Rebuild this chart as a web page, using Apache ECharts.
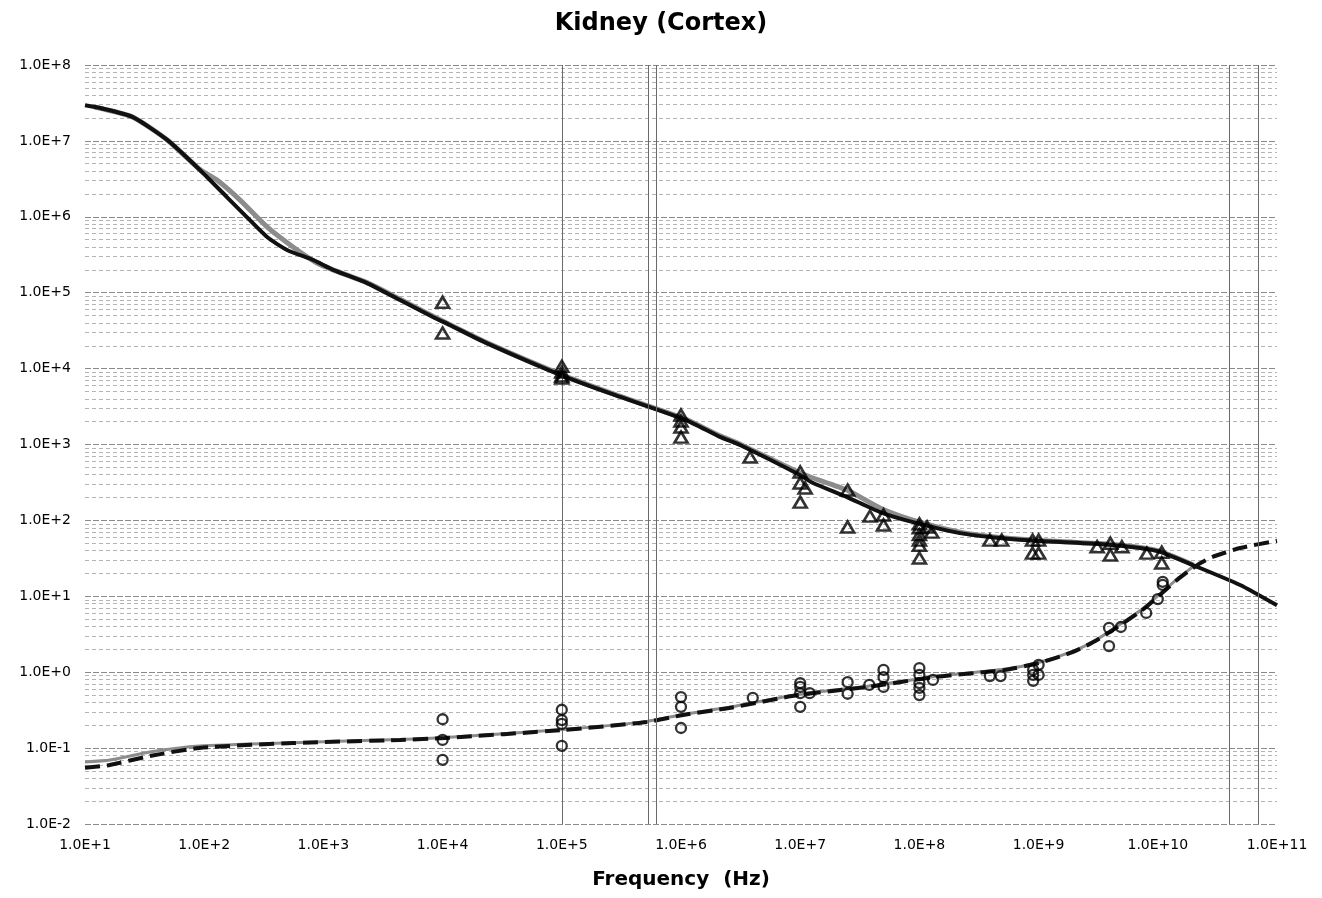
<!DOCTYPE html>
<html>
<head>
<meta charset="utf-8">
<title>Kidney (Cortex)</title>
<script src="https://cdn.jsdelivr.net/npm/echarts@6/dist/echarts.min.js"></script>
<style>
  html, body { margin: 0; padding: 0; background: #fff; }
  #chart { width: 1322px; height: 898px; }
</style>
</head>
<body>
<div id="chart"></div>
<script>
// permittivity model (dark solid)
var permFreq = [10, 13.4, 25, 49, 92, 155, 211, 337, 495, 818, 1205, 2323, 4395, 8300, 11500, 23400,
  1.08e5, 3.1e5, 1.1e6, 2.12e6, 3.13e6, 9.95e6, 1.28e7, 2.47e7, 4.67e7, 8.83e7, 2.19e8, 4.74e8,
  1.03e9, 3.27e9, 7.1e9, 1.05e10, 1.97e10, 4.9e10, 1e11]
var permValue = [2.95e7, 2.71e7, 2.07e7, 1.03e7, 4.14e6, 1.82e6, 1.12e6, 5.42e5, 3.66e5, 2.7e5, 2.0e5, 1.34e5, 8.0e4, 4.79e4, 3.75e4, 2.17e4,
  7740, 4230, 2100, 1260, 984, 396, 311, 203, 129, 95, 68, 58.6,
  53.6, 48.9, 43.3, 38.4, 25.8, 14.1, 7.6]

// permittivity second curve (grey)
var permGreyFreq = [12, 25, 49, 92, 128, 200, 337, 556, 883, 1205, 2323, 4395, 8300, 23400, 1.08e5, 3.1e5,
  1.1e6, 2.12e6, 3.13e6, 9.95e6, 1.28e7, 2.47e7, 4.67e7, 8.83e7, 2.19e8, 4.74e8, 1.03e9, 3.27e9, 7.1e9, 1.05e10, 1.97e10]
var permGreyValue = [2.8e7, 2.07e7, 1.03e7, 4.2e6, 3.05e6, 1.66e6, 7.35e5, 4.0e5, 2.46e5, 2.0e5, 1.36e5, 8.2e4, 4.9e4, 2.2e4, 7900, 4300,
  2150, 1300, 1010, 420, 362, 251, 146, 101, 70, 59.5, 54.5, 49.5, 44, 39, 26]

// conductivity model (dark dashed)
var condFreq = [10, 16.2, 35, 91, 556, 4395, 10500, 1.02e5, 5.2e5, 1.04e6, 2.53e6, 9.55e6, 3.63e7, 1.35e8,
  5.13e8, 1.0e9, 1.95e9, 3.09e9, 7.41e9, 1.45e10, 2.14e10, 2.88e10, 4.9e10, 1e11]
var condValue = [0.055, 0.06, 0.0787, 0.1005, 0.1167, 0.128, 0.136, 0.173, 0.221, 0.273, 0.337, 0.5, 0.638, 0.865,
  1.07, 1.32, 1.85, 2.65, 6.6, 16.4, 25.8, 33.0, 43.3, 54]

// conductivity second curve (grey)
var condGreyFreq = [10, 16.2, 35, 91, 556, 4395, 10500, 1.02e5, 5.2e5, 1.04e6, 2.53e6, 9.55e6, 3.63e7, 1.35e8,
  5.13e8, 1.0e9, 1.95e9, 3.09e9, 7.41e9, 1.45e10, 2.0e10]
var condGreyValue = [0.0656, 0.0696, 0.0889, 0.1067, 0.118, 0.13, 0.138, 0.176, 0.225, 0.278, 0.345, 0.51, 0.65, 0.88,
  1.09, 1.34, 1.9, 2.7, 6.8, 16.8, 25]

// measured permittivity (triangles)
var triFreq = [1e4, 1e4, 1e5, 1e5, 1e5, 1e5, 1e6, 1e6, 1e6, 1e6, 3.8e6, 1e7, 1e7, 1e7, 1.1e7,
  2.5e7, 2.5e7, 3.85e7, 5e7, 5e7, 1e8, 1e8, 1e8, 1e8, 1e8, 1e8, 1.16e8, 1.27e8,
  3.9e8, 4.9e8, 8.9e8, 8.9e8, 1e9, 1e9, 3.1e9, 4e9, 4e9, 5e9, 8.1e9, 1.08e10, 1.08e10]
var triValue = [75000, 29400, 10700, 9000, 8000, 7500, 2450, 2040, 1700, 1250, 684, 434, 311, 174, 267,
  251, 82, 114, 118, 87, 90, 80, 65, 55, 47, 32, 82, 70,
  55, 55, 55, 37, 55, 37, 45, 50, 35, 45, 37, 38, 27.5]

// measured conductivity (circles)
var circFreq = [1e4, 1e4, 1e4, 1e5, 1e5, 1e5, 1e5, 1e6, 1e6, 1e6, 4e6, 1e7, 1e7, 1e7, 1e7, 1.2e7,
  2.5e7, 2.5e7, 3.8e7, 5e7, 5e7, 5e7, 1e8, 1e8, 1e8, 1e8, 1e8, 1.3e8, 3.9e8, 4.8e8,
  9e8, 9e8, 9e8, 1e9, 1e9, 3.9e9, 3.9e9, 4.9e9, 8e9, 1e10, 1.1e10, 1.1e10]
var circValue = [0.24, 0.128, 0.07, 0.32, 0.234, 0.208, 0.107, 0.47, 0.35, 0.184, 0.46, 0.72, 0.64, 0.53, 0.35, 0.53,
  0.74, 0.52, 0.68, 1.07, 0.86, 0.64, 1.13, 0.92, 0.72, 0.62, 0.5, 0.79, 0.89, 0.89,
  1.07, 0.92, 0.77, 0.92, 1.25, 3.83, 2.21, 3.94, 6.03, 9.2, 14.1, 15.5]

// stray vertical rules visible on the original sheet
var ruleFreq = [1e5, 5.3e5, 6.2e5, 4e10, 7e10]

function pairs(xs, ys) {
  return xs.map(function(x, i) { return [x, ys[i]] })
}

function sciLabel(v) {
  var e = Math.round(Math.log10(v))
  return '1.0E' + (e < 0 ? '-' : '+') + Math.abs(e)
}

var chart = echarts.init(document.getElementById('chart'))
var font = 'DejaVu Sans'

chart.setOption({
  backgroundColor: '#fff',
  animation: false,
  title: {
    text: 'Kidney (Cortex)',
    left: 'center',
    top: 7,
    textStyle: { fontFamily: font, fontSize: 24, fontWeight: 'bold', color: '#000' }
  },
  grid: { left: 85, right: 45, top: 65, bottom: 74 },
  xAxis: {
    type: 'log',
    logBase: 10,
    min: 10,
    max: 1e11,
    interval: 1,
    name: 'Frequency  (Hz)',
    nameLocation: 'middle',
    nameGap: 46,
    nameTextStyle: { fontFamily: font, fontSize: 20, fontWeight: 'bold', color: '#000' },
    axisLine: { show: false },
    axisTick: { show: false },
    axisLabel: { fontFamily: font, fontSize: 14, color: '#000', margin: 14, formatter: sciLabel },
    splitLine: { show: false }
  },
  yAxis: {
    type: 'log',
    logBase: 10,
    min: 0.01,
    max: 1e8,
    interval: 1,
    axisLine: { show: false },
    axisTick: { show: false },
    axisLabel: { fontFamily: font, fontSize: 14, color: '#000', margin: 14, formatter: sciLabel },
    splitLine: { show: true, lineStyle: { color: '#8a8a8a', width: 1, type: [6, 2] } },
    minorTick: { show: false, splitNumber: 9 },
    minorSplitLine: { show: true, lineStyle: { color: '#b4b4b4', width: 1, type: [4, 3] } }
  },
  series: [
    {
      name: 'rules',
      type: 'line',
      data: [],
      silent: true,
      markLine: {
        silent: true,
        symbol: 'none',
        label: { show: false },
        lineStyle: { color: '#6a6a6a', width: 1, type: 'solid' },
        data: ruleFreq.map(function(f) { return { xAxis: f } })
      }
    },
    {
      name: 'perm grey',
      type: 'line',
      data: pairs(permGreyFreq, permGreyValue),
      showSymbol: false,
      smooth: 0.2,
      lineStyle: { color: '#8c8c8c', width: 5 }
    },
    {
      name: 'cond grey',
      type: 'line',
      data: pairs(condGreyFreq, condGreyValue),
      showSymbol: false,
      smooth: 0.2,
      lineStyle: { color: '#8c8c8c', width: 3 }
    },
    {
      name: 'permittivity',
      type: 'line',
      data: pairs(permFreq, permValue),
      showSymbol: false,
      smooth: 0.2,
      lineStyle: { color: '#111', width: 4 }
    },
    {
      name: 'conductivity',
      type: 'line',
      data: pairs(condFreq, condValue),
      showSymbol: false,
      smooth: 0.2,
      lineStyle: { color: '#111', width: 4, type: [15, 7] }
    },
    {
      name: 'measured permittivity',
      type: 'scatter',
      data: pairs(triFreq, triValue),
      symbol: 'triangle',
      symbolSize: [13, 11],
      itemStyle: { color: 'rgba(0,0,0,0)', borderColor: '#000', borderWidth: 2.6 },
      z: 5
    },
    {
      name: 'measured conductivity',
      type: 'scatter',
      data: pairs(circFreq, circValue),
      symbol: 'circle',
      symbolSize: 10,
      itemStyle: { color: 'rgba(0,0,0,0)', borderColor: '#000', borderWidth: 2.3 },
      z: 5
    }
  ]
})
</script>
</body>
</html>
